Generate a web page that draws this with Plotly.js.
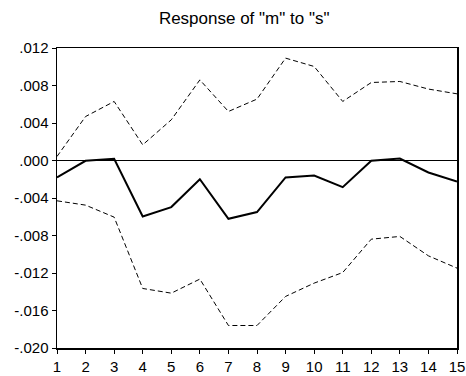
<!DOCTYPE html>
<html>
<head>
<meta charset="utf-8">
<script src="https://cdn.plot.ly/plotly-3.0.1.min.js"></script>
<style>html,body{margin:0;padding:0;background:#fff;}#chart{width:466px;height:376px;}</style>
</head>
<body>
<div id="chart"></div>
<script>
const periods = [1,2,3,4,5,6,7,8,9,10,11,12,13,14,15];
const response = [-0.00181,-0.00003,0.00018,-0.00597,-0.00497,-0.00199,-0.00622,-0.0055,-0.00181,-0.0016,-0.00284,-0.00003,0.00021,-0.00128,-0.00224];
const upperBand = [0.00043,0.00469,0.0063,0.00167,0.00434,0.0086,0.00523,0.00655,0.01092,0.01003,0.0063,0.00832,0.00843,0.00762,0.00711];
const lowerBand = [-0.0043,-0.00476,-0.00604,-0.01365,-0.01415,-0.01265,-0.0176,-0.0176,-0.0145,-0.01308,-0.01195,-0.00839,-0.0081,-0.01017,-0.01148];
const yTickVals = [0.012,0.008,0.004,0,-0.004,-0.008,-0.012,-0.016,-0.020];
const yTickText = [".012",".008",".004",".000","-.004","-.008","-.012","-.016","-.020"];

const traces = [
  {x: periods, y: upperBand, mode: 'lines', line: {color: '#000', width: 1, dash: '5px,3px'}, hoverinfo: 'skip'},
  {x: periods, y: lowerBand, mode: 'lines', line: {color: '#000', width: 1, dash: '5px,3px'}, hoverinfo: 'skip'},
  {x: periods, y: response, mode: 'lines', line: {color: '#000', width: 2}, hoverinfo: 'skip'}
];

const layout = {
  width: 466, height: 376,
  margin: {l: 57, r: 9, t: 48, b: 28},
  paper_bgcolor: '#fff', plot_bgcolor: '#fff',
  showlegend: false,
  font: {family: 'Liberation Sans, Arial, sans-serif', color: '#000', size: 14},
  title: {text: 'Response of "m" to "s"', font: {size: 17, color: '#000'}, xref: 'container', x: 0.524, xanchor: 'center', yref: 'container', y: 0.952, yanchor: 'middle'},
  xaxis: {
    range: [1, 15], tickvals: periods, ticktext: periods.map(String),
    ticks: 'outside', ticklen: 4, tickwidth: 1, tickcolor: '#000',
    showline: true, linecolor: '#000', linewidth: 1.5, mirror: true,
    showgrid: false, zeroline: false, tickfont: {size: 15}
  },
  yaxis: {
    range: [-0.020, 0.012], tickvals: yTickVals, ticktext: yTickText,
    ticks: 'outside', ticklen: 4, tickwidth: 1, tickcolor: '#000',
    showline: true, linecolor: '#000', linewidth: 1.5, mirror: true,
    showgrid: false, zeroline: true, zerolinecolor: '#000', zerolinewidth: 1,
    tickfont: {size: 15}
  }
};

Plotly.newPlot('chart', traces, layout, {staticPlot: true, displayModeBar: false});
</script>
</body>
</html>
